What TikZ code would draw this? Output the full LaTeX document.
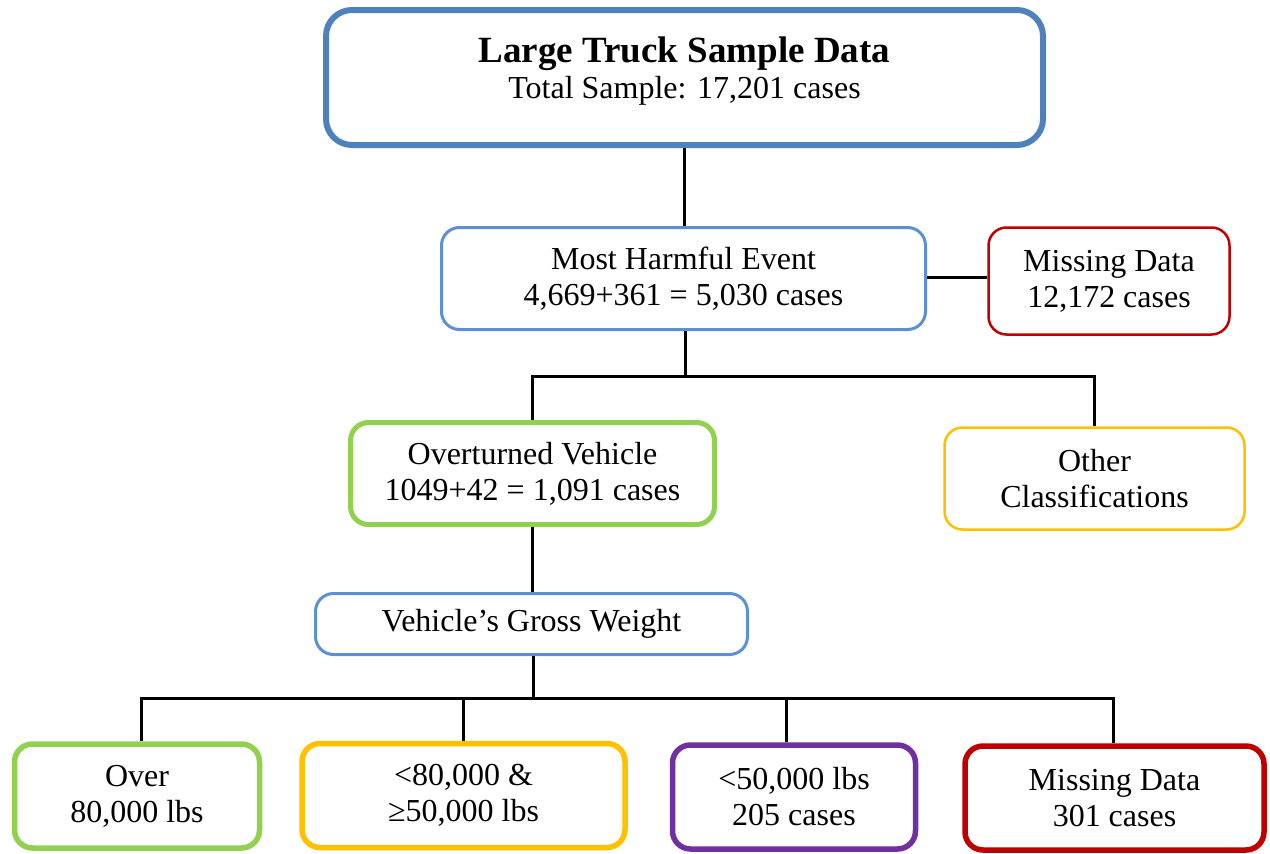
\documentclass[tikz,border=0pt]{standalone}
\usepackage{fontspec}
\setmainfont{Liberation Serif}
\usetikzlibrary{positioning}

\definecolor{hdrblue}{HTML}{4F81BD}
\definecolor{boxblue}{HTML}{5B8FD6}
\definecolor{missred}{HTML}{C00000}
\definecolor{ovgreen}{HTML}{92D050}
\definecolor{othgold}{HTML}{FFC000}
\definecolor{lbspurple}{HTML}{7030A0}

\begin{document}
\begin{tikzpicture}[x=1pt, y=-1pt,
    B/.style={draw, fill=white, rounded corners=18pt, align=center, inner sep=0pt,
      font=\fontsize{32}{36}\selectfont},
    W/.style={B, line width=5.5pt, minimum height=104pt},
    L/.style={black, line width=3pt}]
    \useasboundingbox (0,0) rectangle (1270,854);

    \node[B, draw=hdrblue, line width=6pt, rounded corners=26pt, minimum width=717pt, minimum height=135pt,
      text depth=20pt] (truck) at (684.5,77.5)
      {{\fontsize{37}{36}\selectfont\bfseries Large Truck Sample Data}\\Total Sample: 17,201 cases};
    \node[B, draw=boxblue, line width=3pt, minimum width=484pt, minimum height=102pt] (mhe) at (683.5,278.5)
      {Most Harmful Event\\4,669+361 = 5,030 cases};
    \node[B, draw=missred, line width=2.5pt, minimum width=241pt, minimum height=107pt] (miss) at (1109,281)
      {Missing Data\\12,172 cases};
    \node[B, draw=ovgreen, line width=5pt, minimum width=364pt, minimum height=102pt] (over) at (532.5,473.5)
      {Overturned Vehicle\\1049+42 = 1,091 cases};
    \node[B, draw=othgold, line width=2.5pt, minimum width=300pt, minimum height=102pt] (other) at (1094.5,478.5)
      {Other\\Classifications};
    \node[B, draw=boxblue, line width=3pt, minimum width=432pt, minimum height=61pt] (gross) at (531.5,624)
      {Vehicle’s Gross Weight};

    \node[W, draw=ovgreen, minimum width=245pt] (heavy) at (137,796) {Over\\80,000 lbs};
    \node[W, draw=othgold, minimum width=323pt] (mid) at (463.5,795.5) {<80,000 \&\\≥50,000 lbs};
    \node[W, draw=lbspurple, minimum width=243pt] (light) at (794,797) {<50,000 lbs\\205 cases};
    \node[W, draw=missred, minimum width=299pt] (nowt) at (1114.5,798) {Missing Data\\301 cases};

    \coordinate (j1) at (685,376);
    \coordinate (j2) at (533,698);

    \draw[L] (truck.south) -- (truck.south |- mhe.north);
    \draw[L] ([yshift=1.5pt]mhe.east) -- ([yshift=1.5pt]mhe.east -| miss.west);
    \draw[L] (mhe.south -| j1) -- (j1);
    \draw[L] (over.north) |- (j1) -| (other.north);
    \draw[L] (over.south) -- (over.south |- gross.north);
    \draw[L] (gross.south -| j2) -- (j2);
    \draw[L] ([xshift=4pt]heavy.north) |- (j2) -| ([xshift=-1.5pt]nowt.north);
    \draw[L] (mid.north) -- (mid.north |- j2);
    \draw[L] ([xshift=-8pt]light.north) -- ([xshift=-8pt]light.north |- j2);
\end{tikzpicture}
\end{document}
